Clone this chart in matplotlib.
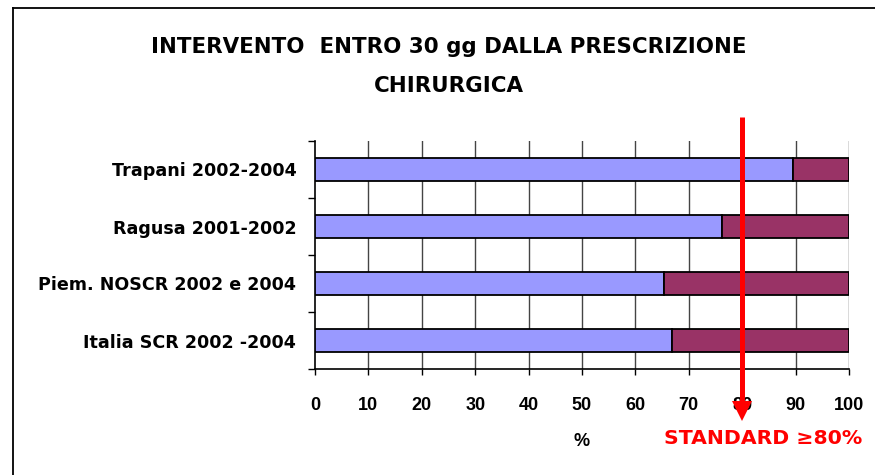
import matplotlib
matplotlib.use("Agg")
import matplotlib.pyplot as plt
from matplotlib.lines import Line2D
import numpy as np

categories = ["Italia SCR 2002 -2004", "Piem. NOSCR 2002 e 2004",
              "Ragusa 2001-2002", "Trapani 2002-2004"]
within_30 = [66.9, 65.4, 76.2, 89.5]
over_30 = [100 - v for v in within_30]
x_ticks = [0, 10, 20, 30, 40, 50, 60, 70, 80, 90, 100]
standard = 80
title_lines = ["INTERVENTO  ENTRO 30 gg DALLA PRESCRIZIONE", "CHIRURGICA"]

W, H = 875, 475
fig = plt.figure(figsize=(W / 100, H / 100), dpi=100)
fig.patch.set_facecolor("white")

ax = fig.add_axes([315 / W, 1 - 369 / H, (849 - 315) / W, (369 - 141) / H])

y = np.arange(len(categories))
ax.barh(y, within_30, height=0.39, color="#9999FF", edgecolor="black", linewidth=1.3, zorder=3)
ax.barh(y, over_30, left=within_30, height=0.39, color="#993366", edgecolor="black", linewidth=1.3, zorder=3)

ax.set_xlim(0, 100)
ax.set_ylim(-0.5, len(categories) - 0.5)

ax.set_xticks(x_ticks)
ax.set_xticklabels([str(t) for t in x_ticks], fontfamily="Liberation Sans",
                   fontweight="bold", fontsize=13)
ax.tick_params(axis="x", direction="out", length=4, width=1, pad=16, color="black")

ax.set_yticks(np.arange(-0.5, len(categories), 1.0))
ax.set_yticklabels([])
ax.set_yticks(y, minor=True)
ax.set_yticklabels(categories, minor=True, fontfamily="DejaVu Sans",
                   fontweight="bold", fontsize=12.6)
ax.tick_params(axis="y", which="major", direction="out", length=5, width=1, color="black")
ax.tick_params(axis="y", which="minor", length=0, pad=13.5)

for t in x_ticks[1:]:
    ax.axvline(t, color="#444444", lw=1, zorder=1)

for s in ["top", "right"]:
    ax.spines[s].set_visible(False)
ax.spines["left"].set_color("black")
ax.spines["bottom"].set_color("black")
ax.spines["left"].set_linewidth(1.2)
ax.spines["bottom"].set_linewidth(1.2)

ax.set_xlabel("%", fontfamily="Liberation Sans", fontweight="bold", fontsize=13, labelpad=14)

# standard arrow: shaft + triangular head
xt = ax.get_xaxis_transform()
ax.plot([standard, standard], [1.105, -0.16], transform=xt, color="red", lw=3.6,
        solid_capstyle="butt", clip_on=False, zorder=6)
ax.plot([standard], [-0.183], transform=xt, marker="v", ms=15, color="red",
        mew=0, clip_on=False, zorder=7)

fig.text(763 / W, 1 - 438 / H, "STANDARD \u226580%", color="red",
         fontfamily="DejaVu Sans", fontweight="bold", fontsize=14.7,
         ha="center", va="center")

fig.text(449 / W, 1 - 47 / H, title_lines[0], fontfamily="DejaVu Sans",
         fontweight="bold", fontsize=15.4, ha="center", va="center")
fig.text(449 / W, 1 - 86 / H, title_lines[1], fontfamily="DejaVu Sans",
         fontweight="bold", fontsize=15.4, ha="center", va="center")

# frame around chart
fig.add_artist(Line2D([13 / W, 13 / W], [0, 1 - 8 / H], transform=fig.transFigure,
                      color="black", lw=1.3))
fig.add_artist(Line2D([13 / W, 1], [1 - 8 / H, 1 - 8 / H], transform=fig.transFigure,
                      color="black", lw=1.3))

fig.savefig("out.png", dpi=100)
